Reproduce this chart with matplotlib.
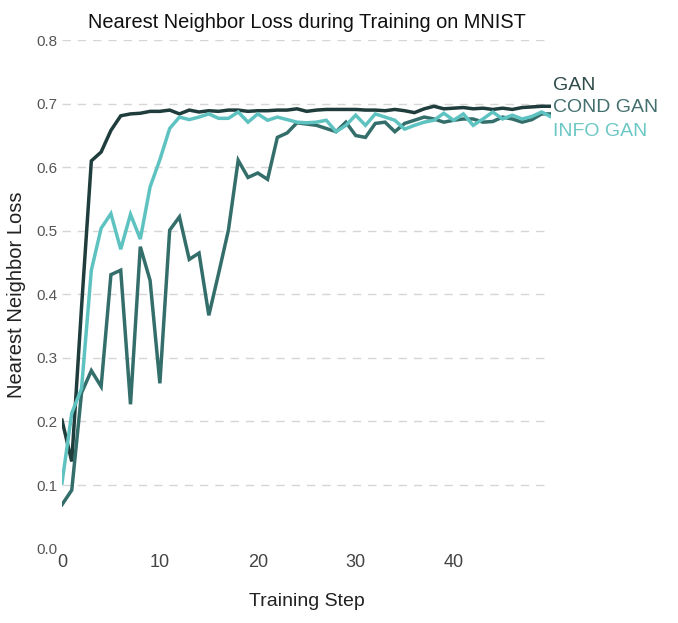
import matplotlib
matplotlib.use("Agg")
import matplotlib.pyplot as plt
import numpy as np

plt.rcParams['font.family'] = ['Liberation Sans', 'DejaVu Sans']

steps = list(range(51))

gan = [0.202, 0.137, 0.38, 0.610, 0.624, 0.658, 0.681, 0.684, 0.685, 0.688,
       0.688, 0.690, 0.684, 0.690, 0.687, 0.689, 0.688, 0.690, 0.690, 0.688,
       0.689, 0.689, 0.690, 0.690, 0.692, 0.688, 0.690, 0.691, 0.691, 0.691,
       0.691, 0.690, 0.690, 0.689, 0.691, 0.689, 0.686, 0.692, 0.696, 0.692,
       0.693, 0.694, 0.692, 0.693, 0.691, 0.693, 0.691, 0.694, 0.695, 0.696,
       0.696]

cond_gan = [0.069, 0.092, 0.245, 0.280, 0.255, 0.431, 0.438, 0.227, 0.475, 0.422,
            0.260, 0.501, 0.522, 0.455, 0.465, 0.367, 0.433, 0.501, 0.611, 0.584,
            0.591, 0.581, 0.647, 0.654, 0.670, 0.668, 0.666, 0.661, 0.656, 0.671,
            0.650, 0.647, 0.669, 0.671, 0.656, 0.669, 0.674, 0.679, 0.676, 0.671,
            0.674, 0.676, 0.676, 0.671, 0.672, 0.679, 0.676, 0.671, 0.675, 0.684,
            0.684]

info_gan = [0.103, 0.213, 0.252, 0.438, 0.504, 0.527, 0.471, 0.526, 0.487, 0.569,
            0.612, 0.661, 0.679, 0.675, 0.679, 0.684, 0.677, 0.677, 0.687, 0.671,
            0.684, 0.674, 0.679, 0.675, 0.671, 0.670, 0.671, 0.674, 0.656, 0.666,
            0.682, 0.666, 0.684, 0.679, 0.674, 0.660, 0.666, 0.671, 0.674, 0.685,
            0.674, 0.684, 0.666, 0.676, 0.687, 0.676, 0.682, 0.676, 0.680, 0.687,
            0.679]

series_names = ["GAN", "COND GAN", "INFO GAN"]
series_values = [gan, cond_gan, info_gan]
colors = ["#1f3d3c", "#346e6b", "#5ec3c0"]
label_colors = ["#2e4a49", "#43706e", "#6cc8c5"]
label_y = [0.729, 0.694, 0.656]

yticks = [0.0, 0.1, 0.2, 0.3, 0.4, 0.5, 0.6, 0.7, 0.8]
xticks = [0, 10, 20, 30, 40]

fig = plt.figure(figsize=(6.78, 6.23), dpi=100)
ax = fig.add_axes([0.0914, 0.1195, 0.722, 0.816])

for vals, c in zip(series_values, colors):
    ax.plot(steps, vals, color=c, lw=2.5, solid_joinstyle='miter')

ax.set_xlim(0, 50)
ax.set_ylim(0, 0.8)
ax.set_yticks(yticks)
ax.set_yticklabels([f"{v:.1f}" for v in yticks])
ax.set_xticks(xticks)

ax.yaxis.grid(True, color="#d6d6d6", linestyle=(0, (6, 5)), linewidth=1.0)
ax.xaxis.grid(False)
ax.get_ygridlines()[0].set_visible(False)
ax.set_axisbelow(True)

for s in ax.spines.values():
    s.set_visible(False)
ax.tick_params(axis='both', length=0)
ax.tick_params(axis='y', labelsize=11, labelcolor="#555555", pad=3)
ax.tick_params(axis='x', labelsize=13, labelcolor="#444444", pad=4)

for name, ly, lc in zip(series_names, label_y, label_colors):
    ax.text(50.15, ly, name, color=lc, fontsize=14, va='center', ha='left',
            clip_on=False)

ax.set_title("Nearest Neighbor Loss during Training on MNIST", fontsize=14.4,
             color="#111111", pad=9)
ax.set_xlabel("Training Step", fontsize=14, color="#222222", labelpad=16)
ax.set_ylabel("Nearest Neighbor Loss", fontsize=14.5, color="#222222", labelpad=8)

fig.savefig("out.png", dpi=100, facecolor="white")
